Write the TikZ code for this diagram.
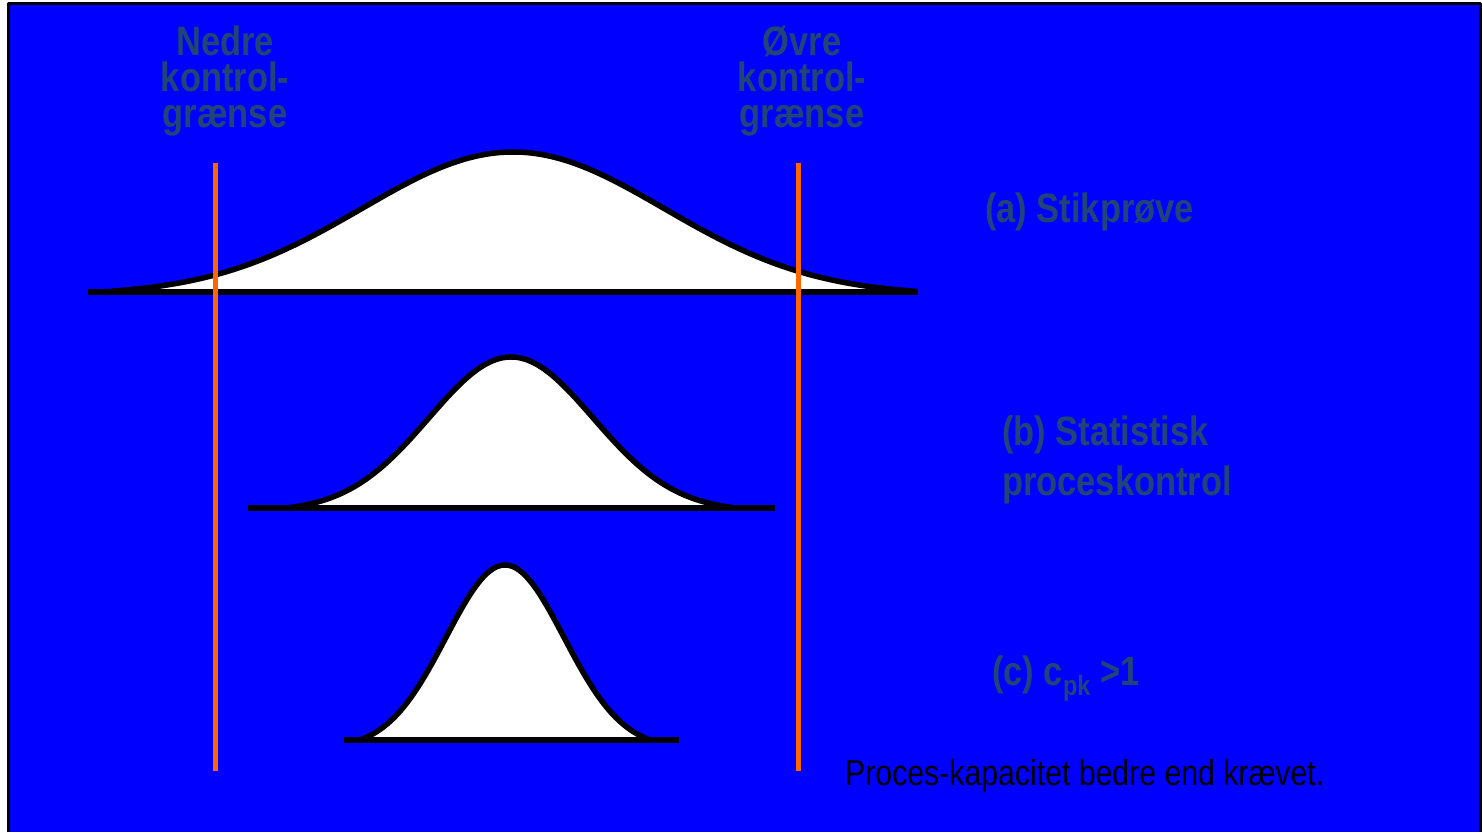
\documentclass[tikz,border=0pt]{standalone}
\usepackage{fontspec}
\newfontfamily\slidefont[FakeStretch=0.84]{Liberation Sans}
\definecolor{slideblue}{RGB}{0,0,255}
\definecolor{slate}{RGB}{33,68,120}
\definecolor{limit}{RGB}{255,102,0}

\begin{document}
\begin{tikzpicture}[x=1pt,y=-1pt,line join=round,
  curve/.style={black,line width=5.5},
  limitline/.style={limit,line width=5.5},
  heading/.style={slate,font=\slidefont\bfseries\fontsize{41}{36}\selectfont,align=center,inner sep=0,anchor=base},
  caption/.style={slate,font=\slidefont\bfseries\fontsize{41}{50}\selectfont,align=left,inner sep=0,anchor=base west}]
  \useasboundingbox[fill=white] (0,0) rectangle (1482,832);
  \fill[slideblue] (8.5,4) rectangle (1480.5,832);
  \draw[black,line width=3] (8.5,832) -- (8.5,4) -- (1480.5,4) -- (1480.5,832);
  % mean/sigma/peak/base line/tail from/tail to/line from/line to
  \foreach \mx/\sd/\peak/\ybase/\tailA/\tailB/\lineA/\lineB in {513/151/140/292/100/918/88/918, 511/82/151/508/286/735/248/775, 505/59/175/740/360/650/344/679} {
    \pgfmathsetmacro\gzero{exp(-0.5*((\tailA-\mx)/\sd)^2)}
    \fill[white] (\tailA,\ybase) -- plot[domain=\tailA:\tailB,samples=90,smooth] (\x,{\ybase-\peak*(exp(-0.5*((\x-\mx)/\sd)^2)-\gzero)/(1-\gzero)}) -- (\tailB,\ybase) -- cycle;
    \draw[curve] plot[domain=\tailA:\tailB,samples=90,smooth] (\x,{\ybase-\peak*(exp(-0.5*((\x-\mx)/\sd)^2)-\gzero)/(1-\gzero)});
    \draw[curve] (\lineA,\ybase) -- (\lineB,\ybase);
  }
  \draw[limitline] (215.5,163) -- (215.5,771);
  \draw[limitline] (798.5,163) -- (798.5,771);
  \node[heading] (lower) at (225,128) {Nedre\\kontrol-\\grænse};
  \node[heading] (upper) at (802,128) {Øvre\\kontrol-\\grænse};
  \node[caption] (capa) at (985,222) {(a) Stikprøve};
  \node[caption] (capb) at (1002,495) {(b) Statistisk\\proceskontrol};
  \node[caption] (capc) at (992,685) {(c) c\raisebox{-0.25em}{\fontsize{28}{28}\selectfont pk} >1};
  \node[font=\slidefont\fontsize{36}{36}\selectfont,inner sep=0,anchor=base west] (note) at (845,785) {Proces-kapacitet bedre end krævet.};
\end{tikzpicture}
\end{document}
